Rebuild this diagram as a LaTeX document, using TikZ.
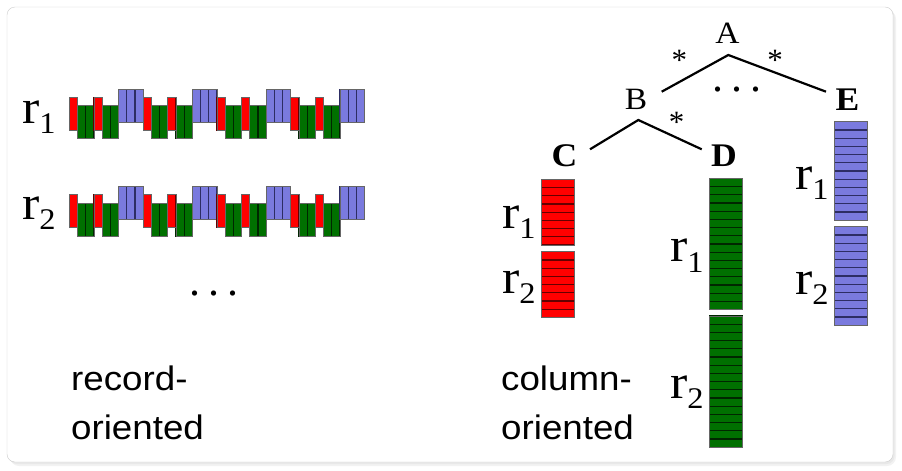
\documentclass[tikz,border=0pt]{standalone}
\usepackage{fontspec}
\setmainfont{Liberation Serif}
\setsansfont{Liberation Sans}

\definecolor{cellred}{RGB}{255,0,0}
\definecolor{cellredline}{RGB}{100,0,0}
\definecolor{cellgreen}{RGB}{0,112,0}
\definecolor{cellgreenline}{RGB}{0,38,0}
\definecolor{cellblue}{RGB}{122,122,222}
\definecolor{cellblueline}{RGB}{45,45,100}

% slightly widened lettering
\newcommand{\wide}[1]{\scalebox{1.08}[1]{#1}}
% record label r with a numeric subscript
\newcommand{\reclabel}[1]{\wide{\fontsize{48}{48}\selectfont r\raisebox{-0.22em}{\fontsize{30}{30}\selectfont #1}}}

\tikzset{
  redcell/.style={fill=cellred, draw=cellredline, line width=1.2pt},
  greencell/.style={fill=cellgreen, draw=cellgreenline, line width=1.2pt},
  bluecell/.style={fill=cellblue, draw=cellblueline, line width=1.2pt},
  blockframe/.style={draw=black!60, line width=0.8pt},
  rowlabel/.style={anchor=base west, inner sep=0pt},
  treelabel/.style={anchor=base, inner sep=0pt, font=\fontsize{31}{31}\selectfont},
  treebold/.style={anchor=base, inner sep=0pt, font=\fontsize{33}{33}\selectfont\bfseries},
  star/.style={anchor=base, inner sep=0pt, font=\fontsize{31}{31}\selectfont},
  dots/.style={anchor=base, inner sep=0pt, font=\fontsize{44}{44}\selectfont},
  caption/.style={anchor=base west, inner sep=0pt, font=\fontsize{34}{34}\selectfont\sffamily},
  edge/.style={line width=2.2pt, line join=miter}
}

\begin{document}
\begin{tikzpicture}[x=1pt, y=-1pt]
\useasboundingbox (0,0) rectangle (902,471);

% panel with a soft shadow
\fill[black!5, rounded corners=9] (10,10) rectangle (896,466);
\fill[black!9, rounded corners=8] (9,9) rectangle (894.5,464);
\draw[black!20, fill=white, rounded corners=8] (7,7) rectangle (893,462);

% ---------- record-oriented layout ----------
\def\cw{8.2}
\foreach \ry in {89.3,186.8}{
  \foreach \k in {0,...,3}{
    \pgfmathsetmacro{\xs}{69.3+\k*9*\cw}
    % green fields (two cells each)
    \foreach \c in {1,2,4,5}
      \draw[greencell] ({\xs+\c*\cw},{\ry+16.5}) rectangle ++(\cw,33);
    \draw[blockframe] ({\xs+1*\cw},{\ry+16.5}) rectangle ++({2*\cw},33);
    \draw[blockframe] ({\xs+4*\cw},{\ry+16.5}) rectangle ++({2*\cw},33);
    % red fields (one cell each)
    \foreach \c in {0,3}{
      \draw[redcell] ({\xs+\c*\cw},{\ry+8}) rectangle ++(\cw,33);
      \draw[blockframe] ({\xs+\c*\cw},{\ry+8}) rectangle ++(\cw,33);
    }
    % blue field (three cells)
    \foreach \c in {6,7,8}
      \draw[bluecell] ({\xs+\c*\cw},{\ry}) rectangle ++(\cw,33);
    \draw[blockframe] ({\xs+6*\cw},{\ry}) rectangle ++({3*\cw},33);
  }
}

\node[rowlabel] (rr1) at (22,123.3) {\reclabel{1}};
\node[rowlabel] (rr2) at (22,219) {\reclabel{2}};
\node[dots] (rdots) at (214,295) {.\hspace{8.5pt}.\hspace{8.5pt}.};

\node[caption] (rcap1) at (71,390) {\wide{record-}};
\node[caption] (rcap2) at (71,439.3) {\wide{oriented}};

% ---------- column-oriented layout ----------
% red column C
\foreach \top in {179.3,251.7}{
  \foreach \i in {0,...,7}
    \draw[redcell] (541.7,{\top+\i*\cw}) rectangle ++(33,\cw);
  \draw[blockframe] (541.7,\top) rectangle ++(33,{8*\cw});
}
% green column D
\foreach \top in {178.3,316}{
  \foreach \i in {0,...,15}
    \draw[greencell] (709.5,{\top+\i*\cw}) rectangle ++(33,\cw);
  \draw[blockframe] (709.5,\top) rectangle ++(33,{16*\cw});
}
% blue column E
\foreach \top in {121.7,226.7}{
  \foreach \i in {0,...,11}
    \draw[bluecell] (834.2,{\top+\i*\cw}) rectangle ++(33,\cw);
  \draw[blockframe] (834.2,\top) rectangle ++(33,{12*\cw});
}

\node[rowlabel] (cr1) at (502,228.3) {\reclabel{1}};
\node[rowlabel] (cr2) at (502,293.3) {\reclabel{2}};
\node[rowlabel] (dr1) at (670,261.7) {\reclabel{1}};
\node[rowlabel] (dr2) at (670,398.3) {\reclabel{2}};
\node[rowlabel] (er1) at (795,189) {\reclabel{1}};
\node[rowlabel] (er2) at (795,294) {\reclabel{2}};

% schema tree
\node[treelabel] (A) at (727.5,43.3) {\wide{A}};
\node[treelabel] (B) at (636,109) {\wide{B}};
\node[treebold] (E) at (847.5,110) {\wide{E}};
\node[treebold] (C) at (564.5,166) {\wide{C}};
\node[treebold] (D) at (724,166) {\wide{D}};

\coordinate (AtoB) at (661.7,91.7);
\coordinate (Aroot) at (728.3,55);
\coordinate (AtoE) at (826,91.7);
\coordinate (BtoC) at (590,149.3);
\coordinate (Broot) at (638.3,120);
\coordinate (BtoD) at (701.7,149.3);

\draw[edge] (AtoB) -- (Aroot) -- (AtoE);
\draw[edge] (BtoC) -- (Broot) -- (BtoD);

\node[star] (sAB) at (679.3,70) {*};
\node[star] (sAE) at (775,70) {*};
\node[star] (sBD) at (676.7,132.3) {*};
\node[dots] (tdots) at (737,91.3) {.\hspace{8.5pt}.\hspace{8.5pt}.};

\node[caption] (ccap1) at (501,390) {\wide{column-}};
\node[caption] (ccap2) at (501,439.3) {\wide{oriented}};

\end{tikzpicture}
\end{document}
